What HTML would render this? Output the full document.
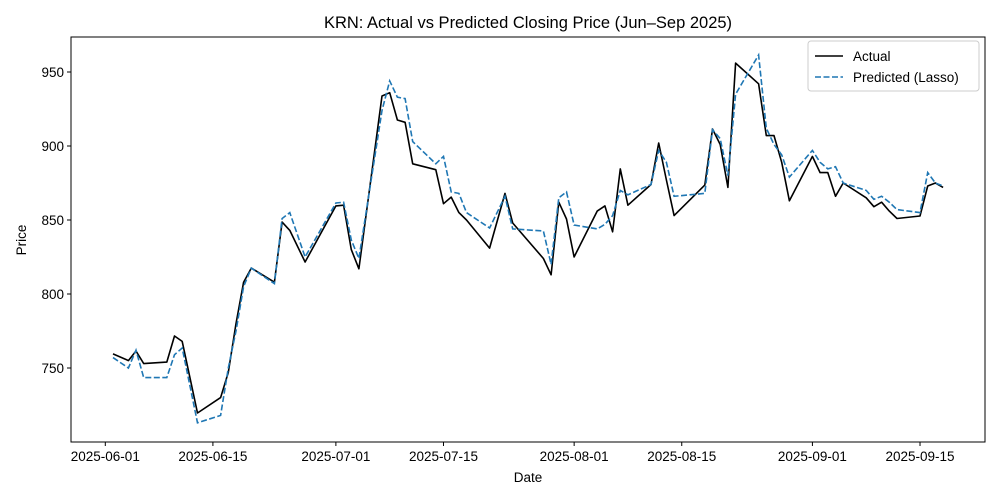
<!DOCTYPE html>
<html><head><meta charset="utf-8"><style>
body{margin:0;background:#fff;}
svg{display:block;font-family:"Liberation Sans","DejaVu Sans",sans-serif;}
</style></head><body>
<svg id="chart" width="1000" height="500">
<text x="528" y="28" font-size="16.5" text-anchor="middle">KRN: Actual vs Predicted Closing Price (Jun–Sep 2025)</text>
<text x="528" y="482" font-size="13.5" text-anchor="middle">Date</text>
<text x="26" y="240" font-size="13.5" text-anchor="middle" transform="rotate(-90 26 240)">Price</text>
<g id="plot"></g>
<g id="legend">
<rect x="808" y="41" width="171" height="50" rx="3" fill="#fff" stroke="#ccc"/>
<line x1="815" y1="56" x2="843" y2="56" stroke="#000" stroke-width="1.6"/>
<text x="853" y="61" font-size="13.5">Actual</text>
<line x1="815" y1="77" x2="843" y2="77" stroke="#1f77b4" stroke-width="1.6" stroke-dasharray="6,2.5"/>
<text x="853" y="82" font-size="13.5">Predicted (Lasso)</text>
</g>
</svg>
<script>
const dates=["2025-06-02","2025-06-04","2025-06-05","2025-06-06","2025-06-09","2025-06-10","2025-06-11","2025-06-13","2025-06-16","2025-06-17","2025-06-18","2025-06-19","2025-06-20","2025-06-23","2025-06-24","2025-06-25","2025-06-27","2025-07-01","2025-07-02","2025-07-03","2025-07-04","2025-07-07","2025-07-08","2025-07-09","2025-07-10","2025-07-11","2025-07-14","2025-07-15","2025-07-16","2025-07-17","2025-07-18","2025-07-21","2025-07-23","2025-07-24","2025-07-28","2025-07-29","2025-07-30","2025-07-31","2025-08-01","2025-08-04","2025-08-05","2025-08-06","2025-08-07","2025-08-08","2025-08-11","2025-08-12","2025-08-13","2025-08-14","2025-08-18","2025-08-19","2025-08-20","2025-08-21","2025-08-22","2025-08-25","2025-08-26","2025-08-27","2025-08-28","2025-08-29","2025-09-01","2025-09-02","2025-09-03","2025-09-04","2025-09-05","2025-09-08","2025-09-09","2025-09-10","2025-09-11","2025-09-12","2025-09-15","2025-09-16","2025-09-17","2025-09-18"];
const actual=[759.5,755,761.5,753,754,771.6,768,719.6,730,747,780,808,817.5,808,848.6,843,821.6,859.5,860,830,817,933.8,936,917.6,916,888,884,861,865.5,855,850,831,868,848,824,813,862,850.7,825,856,859.5,842,884.5,860,874,902,877,853,873.6,911.5,901,872,956,942,907,907,889,863,893,882,882,866,875,865,859,862,856,851,852.7,873,875,872];
const predicted=[757,750,762,743.5,743.5,759,763.5,713,718,750,775,805,817.5,807,851,855,825,861.5,862,836.5,824,924,944,933,932,903,888,893,869,868,855,844.6,866,844,842.6,820,865,869,846.6,844,847,853,870,867,874,897,889,866,868,911,905,880,935,961.5,912,901,894,879,897,889,884.5,886,875,870,864,866,862,857,855,882,875,873];
const yTicks=[750,800,850,900,950];
const xTickLabels=["2025-06-01","2025-06-15","2025-07-01","2025-07-15","2025-08-01","2025-08-15","2025-09-01","2025-09-15"];

const L=71,R=985,T=37,B=442;
const base=Date.UTC(2025,5,1);
function day(s){const p=s.split("-");return (Date.UTC(+p[0],+p[1]-1,+p[2])-base)/864e5;}
function X(s){return 105.3+day(s)*7.686;}
function Y(v){return 368-(v-750)*1.48;}
const NS="http://www.w3.org/2000/svg";
const g=document.getElementById("plot");
function el(t,a){const e=document.createElementNS(NS,t);for(const k in a)e.setAttribute(k,a[k]);g.appendChild(e);return e;}
yTicks.forEach(v=>{
  const y=Y(v);
  const tk=el("line",{x1:L-4,x2:L,y1:y,y2:y,stroke:"#000"});
  
  
  const t=el("text",{x:L-7,y:y+5,"font-size":"13.5","text-anchor":"end"});t.textContent=v;
  
  
});
xTickLabels.forEach(s=>{
  const x=X(s);
  const tk=el("line",{x1:x,x2:x,y1:B,y2:B+4,stroke:"#000"});
  
  
  const t=el("text",{x:x,y:B+19,"font-size":"13.5","text-anchor":"middle"});t.textContent=s;
  
  
});
const pts=arr=>arr.map((v,i)=>X(dates[i]).toFixed(1)+","+Y(v).toFixed(1)).join(" ");
const la=el("polyline",{points:pts(actual),fill:"none",stroke:"#000","stroke-width":"1.6","stroke-linejoin":"round"});


const lp=el("polyline",{points:pts(predicted),fill:"none",stroke:"#1f77b4","stroke-width":"1.6","stroke-dasharray":"6,2.5"});


const fr=el("rect",{x:L,y:T,width:R-L,height:B-T,fill:"none",stroke:"#000","stroke-width":"1"});


</script>
</body></html>
